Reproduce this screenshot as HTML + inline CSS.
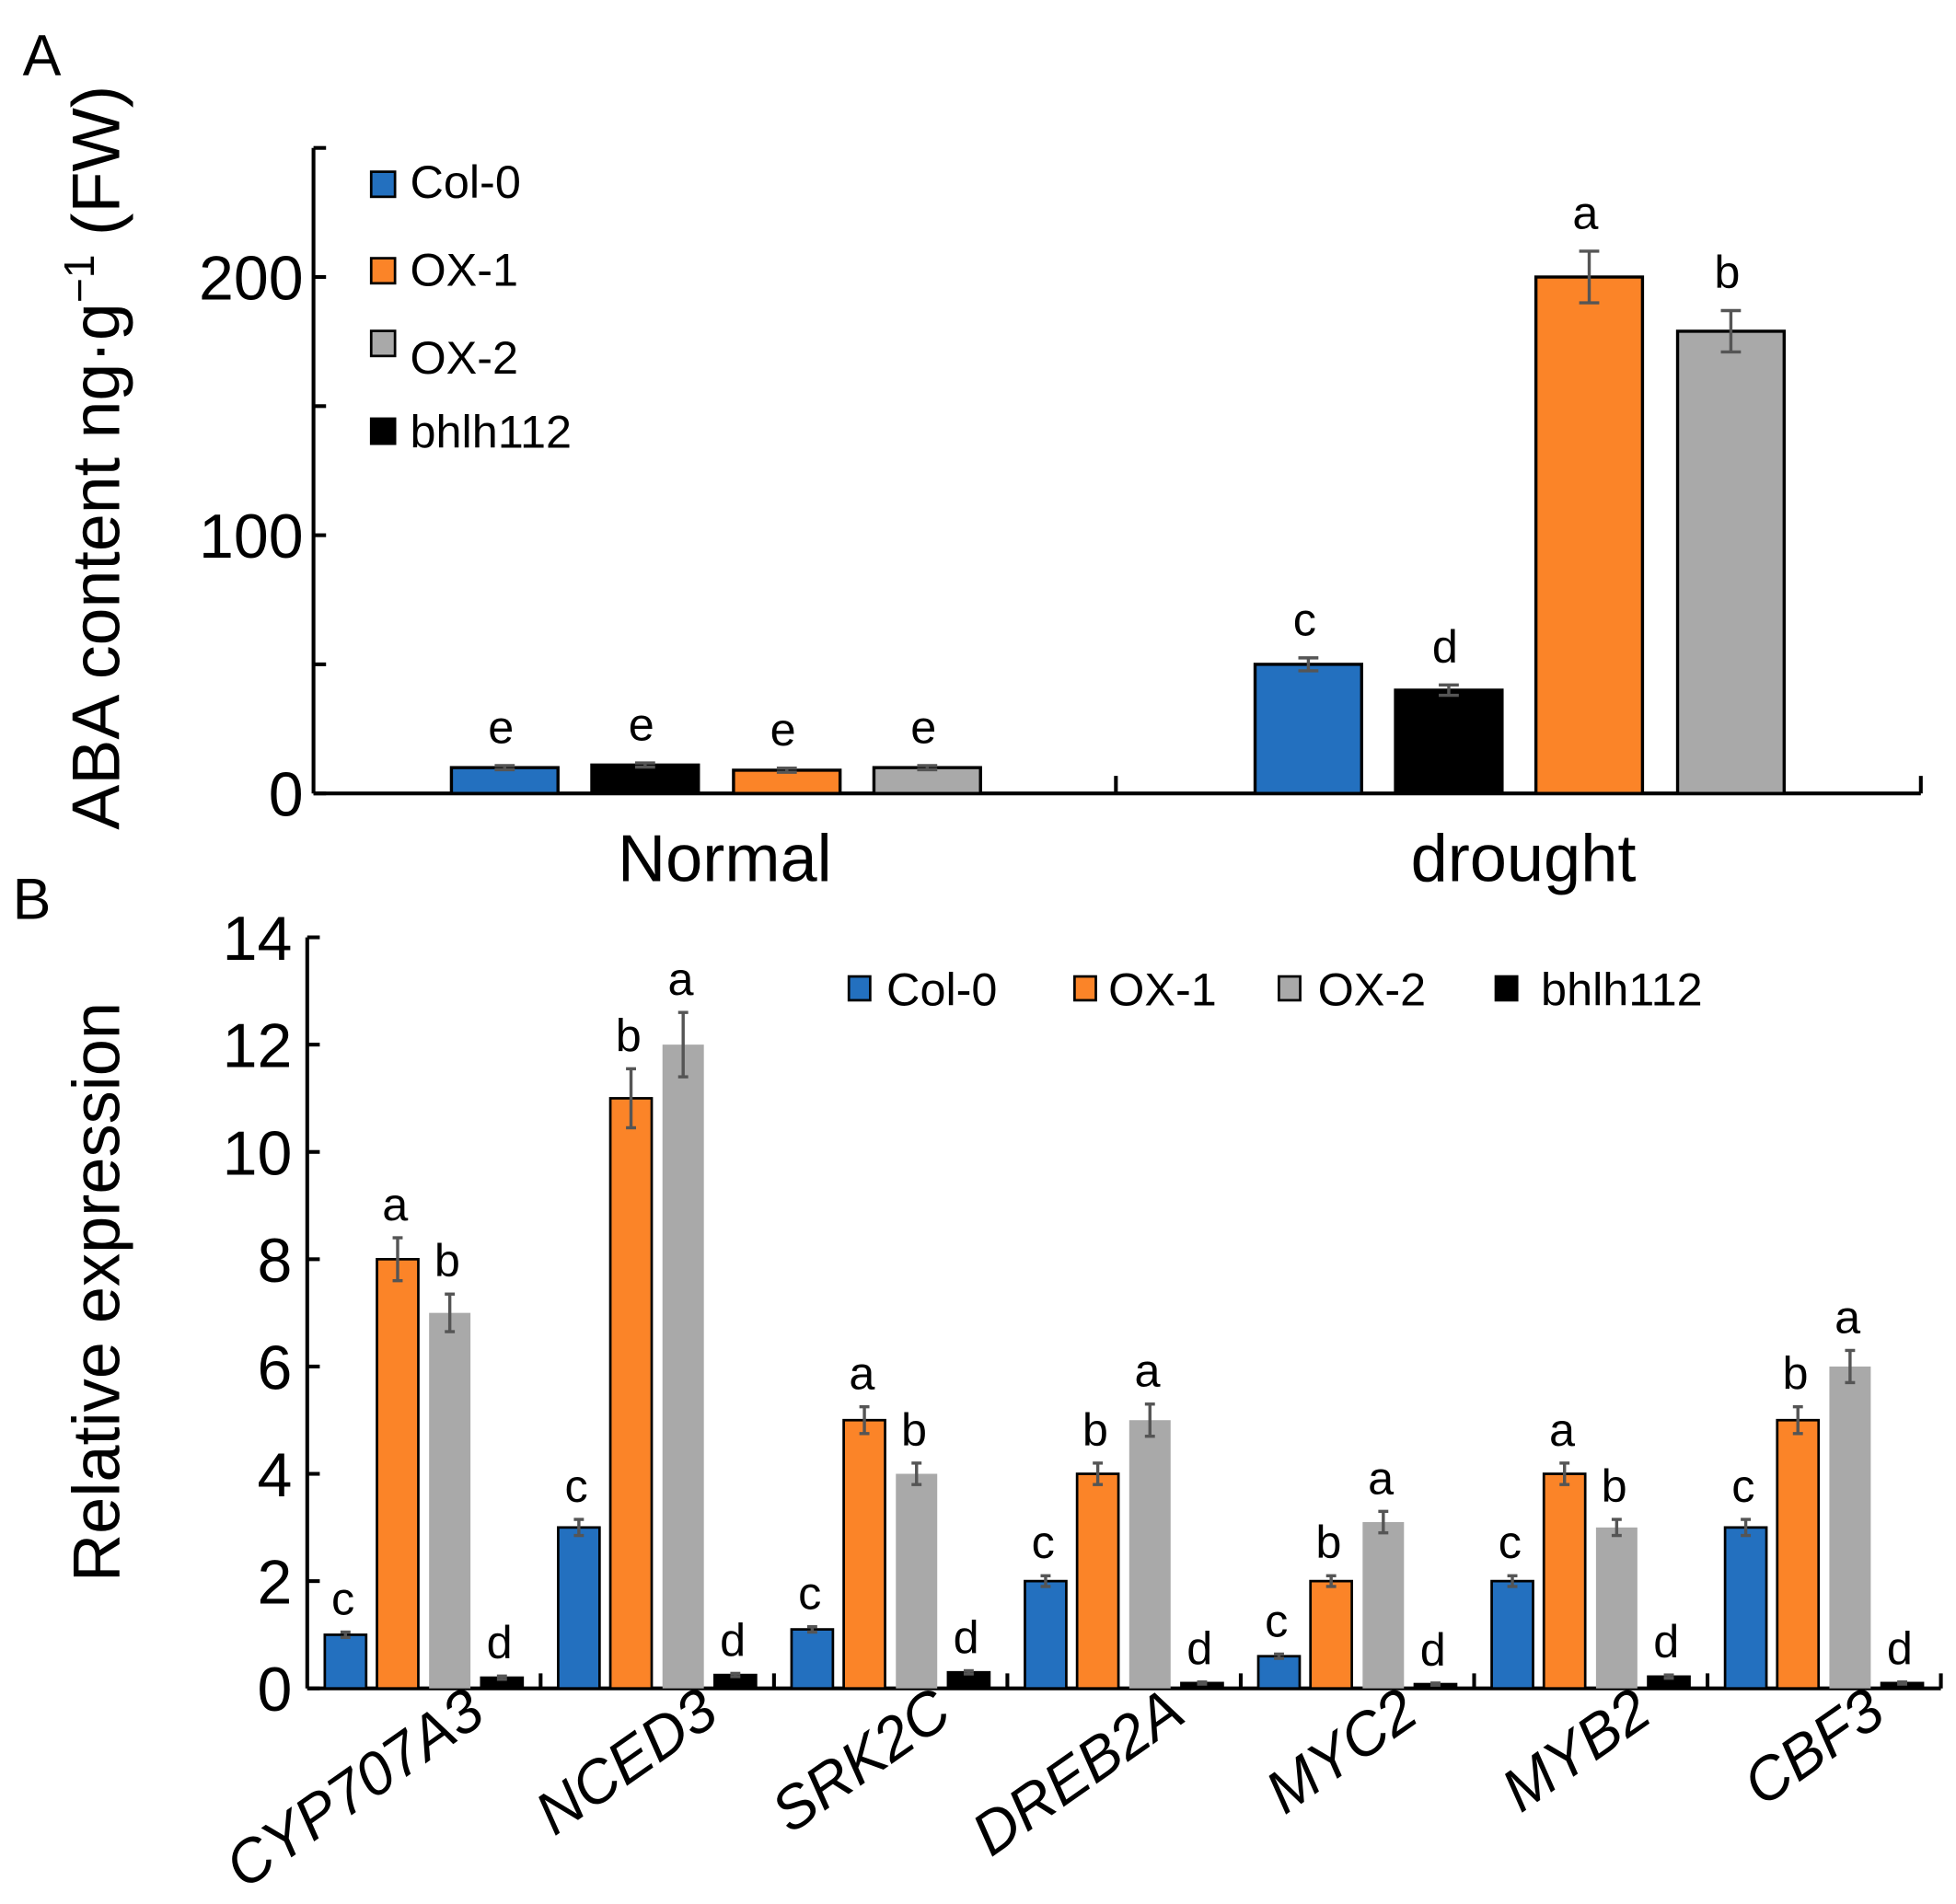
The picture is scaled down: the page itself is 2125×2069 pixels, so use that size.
<!DOCTYPE html>
<html><head><meta charset="utf-8"><style>
html,body{margin:0;padding:0;background:#fff}
svg{display:block}
text{font-family:"Liberation Sans",Arial,sans-serif;fill:#000}
</style></head><body>
<svg id="fig" width="2125" height="2069" viewBox="0 0 1560 1519" xmlns="http://www.w3.org/2000/svg">
<text x="18" y="60" font-size="46">A</text>
<text x="10" y="733" font-size="46">B</text>
<text transform="translate(95,662) rotate(-90)" font-size="54">ABA content ng·g<tspan dy="-20" font-size="34">−1</tspan><tspan dy="20"> (FW)</tspan></text>
<text transform="translate(95,1262) rotate(-90)" font-size="53">Relative expression</text>
<g id="ga"></g><g id="gb"></g>
</svg>
<script>
// Panel A data
const groupsA = ["Normal", "drought"];
const seriesA = ["Col-0", "bhlh112", "OX-1", "OX-2"];
const valuesA = [[10, 11, 9, 10], [50, 40, 200, 179]];
const errorsA = [[0.8, 0.8, 0.8, 0.8], [2.5, 2, 10, 8]];
const lettersA = [["e", "e", "e", "e"], ["c", "d", "a", "b"]];
const ticksA = [0, 100, 200];
// Panel B data
const genesB = ["CYP707A3", "NCED3", "SRK2C", "DREB2A", "MYC2", "MYB2", "CBF3"];
const seriesB = ["Col-0", "OX-1", "OX-2", "bhlh112"];
const col0B = [1, 3, 1.1, 2, 0.6, 2, 3];
const ox1B = [8, 11, 5, 4, 2, 4, 5];
const ox2B = [7, 12, 4, 5, 3.1, 3, 6];
const bhlhB = [0.2, 0.25, 0.3, 0.1, 0.08, 0.22, 0.1];
const col0ErrB = [0.05, 0.15, 0.05, 0.1, 0.04, 0.1, 0.15];
const ox1ErrB = [0.4, 0.55, 0.25, 0.2, 0.1, 0.2, 0.25];
const ox2ErrB = [0.35, 0.6, 0.2, 0.3, 0.2, 0.15, 0.3];
const bhlhErrB = [0.03, 0.03, 0.03, 0.02, 0.02, 0.03, 0.02];
const lettersB = [["c","a","b","d"],["c","b","a","d"],["c","a","b","d"],["c","b","a","d"],["c","b","a","d"],["c","a","b","d"],["c","b","a","d"]];
const ticksB = [0, 2, 4, 6, 8, 10, 12, 14];

const NS = "http://www.w3.org/2000/svg";
const colors = {"Col-0":"#2370bf","OX-1":"#fb8428","OX-2":"#a9a9a9","bhlh112":"#000000"};
function mk(parent, tag, attrs, txt){const e=document.createElementNS(NS,tag);for(const k in attrs)e.setAttribute(k,attrs[k]);if(txt!==undefined)e.textContent=txt;parent.appendChild(e);return e;}

// ---- Panel A
const ga=document.getElementById('ga');
const yA=v=>633-v*2.06;
const xA0=250, xA1=1532;
mk(ga,'line',{x1:xA0,y1:yA(0),x2:xA1,y2:yA(0),stroke:'#000','stroke-width':3});
mk(ga,'line',{x1:xA0,y1:118,x2:xA0,y2:yA(0),stroke:'#000','stroke-width':3});
[0,50,100,150,200,250].forEach(t=>{mk(ga,'line',{x1:xA0,y1:yA(t),x2:xA0+10,y2:yA(t),stroke:'#000','stroke-width':3});});
ticksA.forEach(t=>{
  const e=mk(ga,'text',{x:xA0-8,y:yA(t)+18,'font-size':50,'text-anchor':'end'},String(t));
  
  
});
[890,1532].forEach(x=>mk(ga,'line',{x1:x,y1:yA(0),x2:x,y2:yA(0)-14,stroke:'#000','stroke-width':3}));
const startsA=[[360,472,585,697],[1001,1113,1225,1338]];
groupsA.forEach((g,gi)=>{
  const lab=mk(ga,'text',{x:gi===0?578:1215,y:703,'font-size':53,'text-anchor':'middle'},g);
  
  
  seriesA.forEach((s,si)=>{
    const v=valuesA[gi][si], x=startsA[gi][si], w=85;
    const r=mk(ga,'rect',{x:x,y:yA(v),width:w,height:yA(0)-yA(v),fill:colors[s],stroke:'#000','stroke-width':2.5});
    
    
    const cx=x+w/2, e=errorsA[gi][si];
    mk(ga,'line',{x1:cx,y1:yA(v+e),x2:cx,y2:yA(v-e),stroke:'#555','stroke-width':2.5});
    mk(ga,'line',{x1:cx-8,y1:yA(v+e),x2:cx+8,y2:yA(v+e),stroke:'#555','stroke-width':2.5});
    mk(ga,'line',{x1:cx-8,y1:yA(v-e),x2:cx+8,y2:yA(v-e),stroke:'#555','stroke-width':2.5});
    const lt=mk(ga,'text',{x:cx-3,y:yA(v+e)-18,'font-size':37,'text-anchor':'middle'},lettersA[gi][si]);
    
    
  });
});
const legA=[["Col-0",137,158],["OX-1",206,228],["OX-2",264,298],["bhlh112",334,357]];
legA.forEach(([s,sy,ty])=>{
  const r=mk(ga,'rect',{x:296,y:sy,width:19,height:20,fill:colors[s],stroke:'#000','stroke-width':2});
  
  
  const t=mk(ga,'text',{x:327,y:ty,'font-size':37},s);
  
  
});

// ---- Panel B
const gb=document.getElementById('gb');
const yB=v=>1347-v*42.8;
const xB0=245, xB1=1548, gw=(xB1-xB0)/genesB.length;
mk(gb,'line',{x1:xB0,y1:yB(0),x2:xB1,y2:yB(0),stroke:'#000','stroke-width':3});
mk(gb,'line',{x1:xB0,y1:yB(14),x2:xB0,y2:yB(0),stroke:'#000','stroke-width':3});
ticksB.forEach(t=>{
  mk(gb,'line',{x1:xB0,y1:yB(t),x2:xB0+10,y2:yB(t),stroke:'#000','stroke-width':3});
  const e=mk(gb,'text',{x:xB0-12,y:yB(t)+18,'font-size':50,'text-anchor':'end'},String(t));
  
  
});
const valsB=[col0B,ox1B,ox2B,bhlhB], errsB=[col0ErrB,ox1ErrB,ox2ErrB,bhlhErrB];
genesB.forEach((g,gi)=>{
  const gx=xB0+gi*gw;
  mk(gb,'line',{x1:gx+gw,y1:yB(0),x2:gx+gw,y2:yB(0)-12,stroke:'#000','stroke-width':3});
  const lab=mk(gb,'text',{transform:`translate(${gx+gw-42},1372) rotate(-35)`,'font-size':48,'font-style':'italic','text-anchor':'end'},g);
  
  
  seriesB.forEach((s,si)=>{
    const v=valsB[si][gi], e=errsB[si][gi], w=33, x=gx+14+si*41.6;
    const r=mk(gb,'rect',{x:x,y:yB(v),width:w,height:yB(0)-yB(v),fill:colors[s],stroke:s==='OX-2'?'none':'#000','stroke-width':2});
    
    
    const cx=x+w/2;
    mk(gb,'line',{x1:cx,y1:yB(v+e),x2:cx,y2:yB(v-e),stroke:'#555','stroke-width':2.5});
    mk(gb,'line',{x1:cx-4,y1:yB(v+e),x2:cx+4,y2:yB(v+e),stroke:'#555','stroke-width':2.5});
    mk(gb,'line',{x1:cx-4,y1:yB(v-e),x2:cx+4,y2:yB(v-e),stroke:'#555','stroke-width':2.5});
    const lt=mk(gb,'text',{x:cx-2,y:yB(v+e)-14,'font-size':37,'text-anchor':'middle'},lettersB[gi][si]);
    
    
  });
});
const legB=[["Col-0",677,707],["OX-1",857,884],["OX-2",1020,1051],["bhlh112",1193,1229]];
legB.forEach(([s,sx,tx])=>{
  const r=mk(gb,'rect',{x:sx,y:779,width:17,height:19,fill:colors[s],stroke:'#000','stroke-width':2});
  
  
  const t=mk(gb,'text',{x:tx,y:802,'font-size':37},s);
  
  
});
</script>
</body></html>
